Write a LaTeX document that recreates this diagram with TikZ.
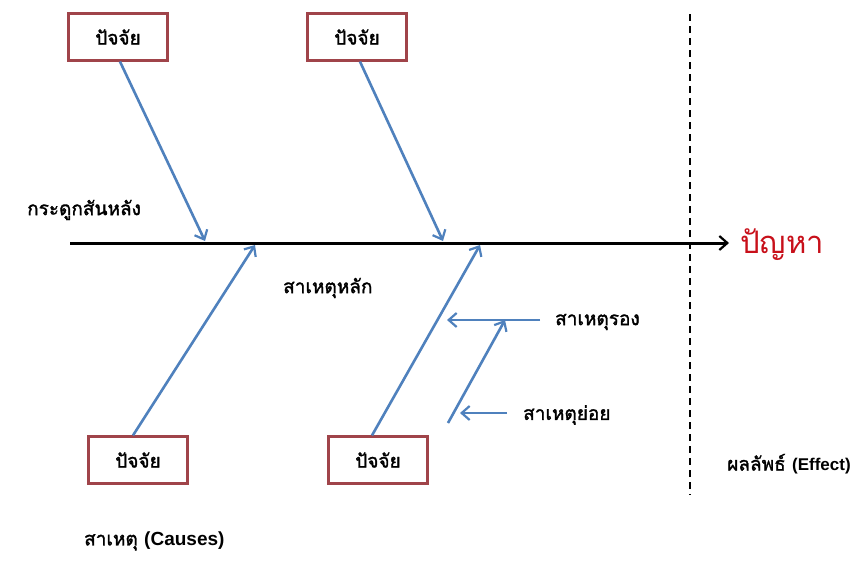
\documentclass[tikz,border=0pt]{standalone}
\usepackage{fontspec}
\newfontfamily\thaifont[Script=Thai, AutoFakeBold=1.6]{Loma}
\newfontfamily\latinfont{Liberation Sans}
\usetikzlibrary{arrows.meta}
\definecolor{boxred}{RGB}{160,68,74}
\definecolor{boneblue}{RGB}{79,129,189}
\definecolor{probred}{RGB}{200,16,26}
\begin{document}
\begin{tikzpicture}[
            x=1pt, y=-1pt,
            >={Straight Barb[length=8pt,width=14pt,line width=2.2pt]},
            factor/.style={draw=boxred, line width=2.2pt, rectangle, fill=white,
                            minimum height=47pt, minimum width=99pt,
                            font=\thaifont\bfseries\fontsize{19}{22}\selectfont},
            label/.style={inner sep=0pt, font=\thaifont\bfseries\fontsize{19}{22}\selectfont},
            bone/.style={draw=boneblue, line width=2.6pt},
            spine/.style={draw=black, line width=3pt}
        ]
            \useasboundingbox[fill=white] (0,0) rectangle (859,570);

            \node[factor] (f1) at (118,37) {ปัจจัย};
            \node[factor] (f2) at (357,37) {ปัจจัย};
            \node[factor] (f3) at (138,460) {ปัจจัย};
            \node[factor] (f4) at (378,460) {ปัจจัย};

            \coordinate (tail) at (70,243);
            \node[anchor=west, text=probred, inner sep=0pt,
                  font=\thaifont\fontsize{31}{36}\selectfont] (prob) at (740,245) {ปัญหา};
            \coordinate (head) at (729,243);
            \draw[spine,->] (tail) -- (head);

            \draw[dashed, line width=1.4pt, dash pattern=on 7pt off 5pt] (690,14) -- (690,495);

            \coordinate (b1) at (205,241);
            \coordinate (b2) at (443,241);
            \coordinate (b3) at (255,245);
            \coordinate (b4) at (480,245);
            \draw[bone,->] (f1.south) ++(2,0) -- (b1);
            \draw[bone,->] (f2.south) ++(3,0) -- (b2);
            \draw[bone,->] (f3.north) ++(-5,0) -- (b3);
            \draw[bone,->] (f4.north) ++(-6,0) -- (b4);

            \node[label, anchor=west] (sub) at (555,322) {สาเหตุรอง};
            \node[label, anchor=west] (minor) at (523,415) {สาเหตุย่อย};
            \coordinate (s1) at (540,320);
            \coordinate (s2) at (447,320);
            \coordinate (m0) at (448,423);
            \coordinate (m1) at (505,320);
            \coordinate (n1) at (507,413);
            \coordinate (n2) at (460,413);
            \draw[bone,->] (s1) -- (s2);
            \draw[bone,->] (m0) -- (m1);
            \draw[bone,->] (n1) -- (n2);

            \node[label, anchor=west] (spinelbl) at (27,210) {กระดูกสันหลัง};
            \node[label, anchor=west] (mainlbl) at (283,288) {สาเหตุหลัก};
            \node[label, anchor=west] (causes) at (84,541) {สาเหตุ {\latinfont\bfseries\fontsize{19}{22}\selectfont(Causes)}};
            \node[label, anchor=west] (effect) at (727,464) {ผลลัพธ์ {\latinfont\bfseries\fontsize{17}{20}\selectfont(Effect)}};

        \end{tikzpicture}
\end{document}
